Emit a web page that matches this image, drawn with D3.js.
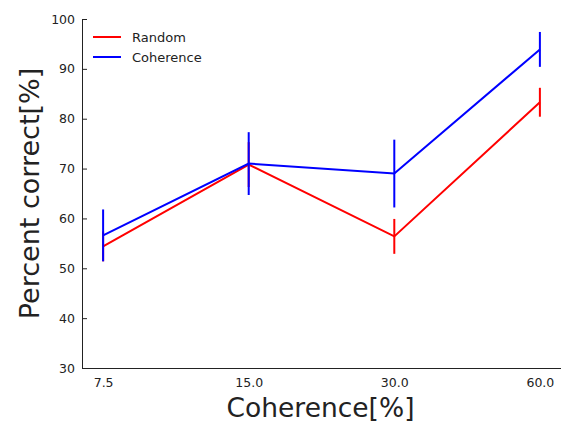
<!DOCTYPE html>
<html><head><meta charset="utf-8">
<script src="https://cdn.jsdelivr.net/npm/d3@7"></script>
<style>
html,body{margin:0;padding:0;background:#fff;}
text{font-family:"DejaVu Sans",sans-serif;fill:#222;}
</style></head>
<body><svg id="c" width="562" height="422"></svg>
<script>
const categories = ["7.5", "15.0", "30.0", "60.0"];
const randomMean = [54.4, 70.8, 56.4, 83.3];
const randomErr  = [3.0, 4.5, 3.5, 2.9];
const coherenceMean = [56.6, 71.0, 69.0, 93.9];
const coherenceErr  = [5.2, 6.3, 6.8, 3.5];
const yTicks = [30, 40, 50, 60, 70, 80, 90, 100];
const seriesNames = ["Random", "Coherence"];
const seriesColors = ["#ff0000", "#0000ff"];

const svg = d3.select("#c");
const pL = 82, pR = 561, pT = 19, pB = 368;
const step = (pR - pL) / (categories.length - 1 + 0.29);
const x = d3.scalePoint().domain(categories)
  .range([pL + step * 0.145, pR - step * 0.145]);
const y = d3.scaleLinear().domain([30, 100]).range([pB, pT]);

// axes
const yAxis = d3.axisLeft(y).tickValues(yTicks).tickSize(-5).tickPadding(7).tickFormat(d3.format("d"));
const gy = svg.append("g").attr("transform", `translate(${pL},0)`).call(yAxis);
gy.select(".domain").attr("stroke", "#222");
gy.selectAll(".tick line").attr("stroke", "#222");
gy.selectAll("text").attr("font-size", 12.5).style("fill", "#222");

const xAxis = d3.axisBottom(x).tickSize(0).tickPadding(10);
const gx = svg.append("g").attr("transform", `translate(0,${pB})`).call(xAxis);
gx.select(".domain").attr("d", `M${pL},0.5H${pR}`).attr("stroke", "#222");
gx.selectAll("text").attr("font-size", 12.5).style("fill", "#222");

// series
const series = [
  {name: seriesNames[0], color: seriesColors[0], mean: randomMean, err: randomErr},
  {name: seriesNames[1], color: seriesColors[1], mean: coherenceMean, err: coherenceErr}
];
const line = d3.line().x(d => x(d.c)).y(d => y(d.v));
series.forEach(s => {
  const pts = categories.map((c, i) => ({c, v: s.mean[i], e: s.err[i]}));
  const g = svg.append("g");
  g.append("path").datum(pts).attr("d", line).attr("fill", "none")
    .attr("stroke", s.color).attr("stroke-width", 2);
  g.selectAll("line.err").data(pts).enter().append("line")
    .attr("x1", d => x(d.c)).attr("x2", d => x(d.c))
    .attr("y1", d => y(d.v - d.e)).attr("y2", d => y(d.v + d.e))
    .attr("stroke", s.color).attr("stroke-width", 2);
});

// labels
svg.append("text").attr("x", (pL + pR) / 2 - 1).attr("y", 417)
  .attr("text-anchor", "middle").attr("font-size", 26.5).text("Coherence[%]");
svg.append("text").attr("transform", `translate(39,${(pT + pB) / 2}) rotate(-90)`)
  .attr("text-anchor", "middle").attr("font-size", 27).text("Percent correct[%]");

// legend
const lg = svg.append("g");
series.forEach((s, i) => {
  const ly = 37 + i * 20;
  lg.append("line").attr("x1", 93).attr("x2", 121).attr("y1", ly).attr("y2", ly)
    .attr("stroke", s.color).attr("stroke-width", 2);
  lg.append("text").attr("x", 132).attr("y", ly + 4.5).attr("font-size", 13).text(s.name);
});
</script></body></html>
